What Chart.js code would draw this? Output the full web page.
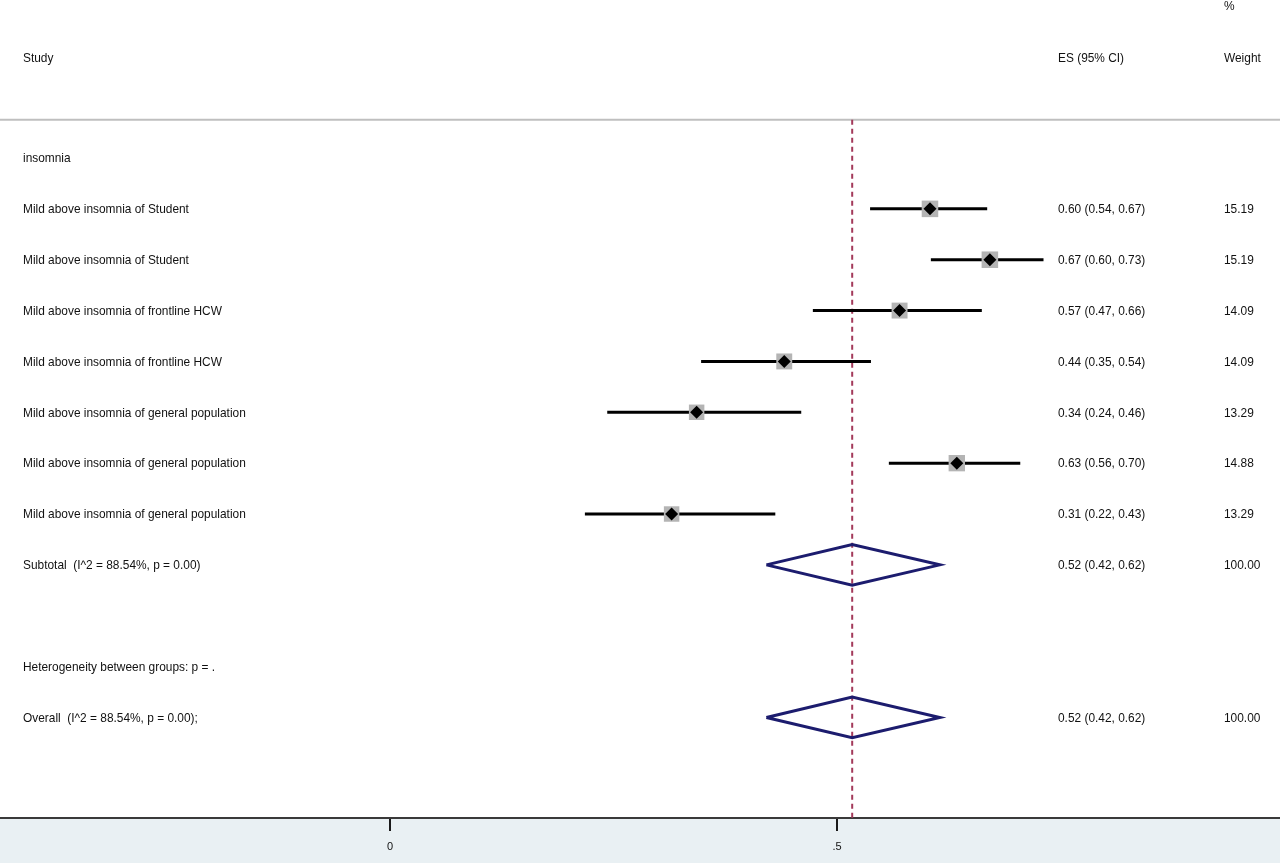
<!DOCTYPE html>
<html>
<head>
<meta charset="utf-8">
<script src="https://cdn.jsdelivr.net/npm/chart.js@4/dist/chart.umd.min.js"></script>
<style>
  html, body { margin: 0; padding: 0; background: #ffffff; }
  #wrap { width: 1280px; height: 865px; position: relative; }
</style>
</head>
<body>
<div id="wrap"><canvas id="c"></canvas></div>
<script>
// ---- data ----
const headerStudy = "Study";
const headerES = "ES (95% CI)";
const headerWeightTop = "%";
const headerWeight = "Weight";
const groupLabel = "insomnia";
const studyLabels = [
  "Mild above insomnia of Student",
  "Mild above insomnia of Student",
  "Mild above insomnia of frontline HCW",
  "Mild above insomnia of frontline HCW",
  "Mild above insomnia of general population",
  "Mild above insomnia of general population",
  "Mild above insomnia of general population"
];
const studyES = [0.604, 0.671, 0.570, 0.441, 0.343, 0.634, 0.315];
const studyLo = [0.537, 0.605, 0.473, 0.348, 0.243, 0.558, 0.218];
const studyHi = [0.668, 0.731, 0.662, 0.538, 0.460, 0.705, 0.431];
const studyESText = [
  "0.60 (0.54, 0.67)", "0.67 (0.60, 0.73)", "0.57 (0.47, 0.66)", "0.44 (0.35, 0.54)",
  "0.34 (0.24, 0.46)", "0.63 (0.56, 0.70)", "0.31 (0.22, 0.43)"
];
const studyWeights = [15.19, 15.19, 14.09, 14.09, 13.29, 14.88, 13.29];
const studyWeightText = ["15.19", "15.19", "14.09", "14.09", "13.29", "14.88", "13.29"];
const pooledLabels = ["Subtotal  (I^2 = 88.54%, p = 0.00)", "Overall  (I^2 = 88.54%, p = 0.00);"];
const pooledES = [0.517, 0.517];
const pooledLo = [0.421, 0.421];
const pooledHi = [0.615, 0.615];
const pooledESText = ["0.52 (0.42, 0.62)", "0.52 (0.42, 0.62)"];
const pooledWeightText = ["100.00", "100.00"];
const heterogeneityLabel = "Heterogeneity between groups: p = .";
const xTicks = [0, 0.5];
const xTickLabels = ["0", ".5"];

// ---- layout (row positions) ----
const groupRow = 0;
const studyRows = studyLabels.map((_, i) => i + 1);
const subtotalRow = studyRows.length + 1;
const hetRow = subtotalRow + 2;
const overallRow = hetRow + 1;
const pooledRows = [subtotalRow, overallRow];
const headerRow = -1.98;
const headerTopRow = -3.0;
const sepRow = -0.75;
const Y_MIN = -3.1066, Y_MAX = 12.977;
const X_MIN = -0.43624, X_MAX = 0.99553;
const DIAMOND_HALF = 0.4;

const FONT = '11.9px "Liberation Sans", Arial, sans-serif';
const TXT = '#111111';
const COL_STUDY = 23, COL_ES = 1058, COL_W = 1224;
const TEXT_DY = 1;

// ---- datasets ----
const datasets = [];
// reference dashed line
datasets.push({
  type: 'line', label: 'ref',
  data: [{x: pooledES[1], y: sepRow}, {x: pooledES[1], y: Y_MAX}],
  borderColor: '#a3395a', borderWidth: 2, borderDash: [5, 4],
  pointRadius: 0, showLine: true, order: 20
});
// CI lines
studyES.forEach((v, i) => {
  datasets.push({
    type: 'line', label: 'ci' + i,
    data: [{x: studyLo[i], y: studyRows[i]}, {x: studyHi[i], y: studyRows[i]}],
    borderColor: '#000000', borderWidth: 3, pointRadius: 0, showLine: true, order: 10
  });
});
// weight squares
datasets.push({
  type: 'scatter', label: 'weights',
  data: studyES.map((v, i) => ({x: v, y: studyRows[i]})),
  pointStyle: 'rect',
  pointRadius: ctx => 3.0 * Math.sqrt(studyWeights[ctx.dataIndex] || 0),
  backgroundColor: '#b4b4b4', borderWidth: 0, order: 8
});
// point estimates
datasets.push({
  type: 'scatter', label: 'es',
  data: studyES.map((v, i) => ({x: v, y: studyRows[i]})),
  pointStyle: 'rectRot', pointRadius: 6.5,
  backgroundColor: '#000000', borderWidth: 0, order: 1
});
// pooled diamonds
pooledES.forEach((v, i) => {
  const r = pooledRows[i];
  datasets.push({
    type: 'line', label: 'pooled' + i,
    data: [
      {x: pooledLo[i], y: r}, {x: v, y: r - DIAMOND_HALF},
      {x: pooledHi[i], y: r}, {x: v, y: r + DIAMOND_HALF},
      {x: pooledLo[i], y: r}
    ],
    borderColor: '#1c1c6e', borderWidth: 3, pointRadius: 0, showLine: true,
    tension: 0, fill: false, order: 2, borderJoinStyle: 'miter'
  });
});

// ---- plugins ----
const bandPlugin = {
  id: 'band',
  beforeDraw(chart) {
    const {ctx, chartArea, width, height} = chart;
    ctx.save();
    ctx.fillStyle = '#ffffff';
    ctx.fillRect(0, 0, width, height);
    ctx.fillStyle = '#e9f0f3';
    ctx.fillRect(0, chartArea.bottom, width, height - chartArea.bottom - 2);
    // header separator line
    const y = chart.scales.y.getPixelForValue(sepRow);
    ctx.strokeStyle = '#bfbfbf';
    ctx.lineWidth = 2;
    ctx.beginPath();
    ctx.moveTo(0, y); ctx.lineTo(width, y);
    ctx.stroke();
    ctx.restore();
  }
};

const textPlugin = {
  id: 'texts',
  afterDraw(chart) {
    const {ctx} = chart;
    const ys = chart.scales.y;
    ctx.save();
    ctx.font = FONT;
    ctx.fillStyle = TXT;
    ctx.textBaseline = 'middle';
    ctx.textAlign = 'left';
    const put = (t, x, row) => ctx.fillText(t, x, ys.getPixelForValue(row) + TEXT_DY);
    put(headerWeightTop, COL_W, headerTopRow);
    put(headerStudy, COL_STUDY, headerRow);
    put(headerES, COL_ES, headerRow);
    put(headerWeight, COL_W, headerRow);
    put(groupLabel, COL_STUDY, groupRow);
    studyLabels.forEach((t, i) => {
      put(t, COL_STUDY, studyRows[i]);
      put(studyESText[i], COL_ES, studyRows[i]);
      put(studyWeightText[i], COL_W, studyRows[i]);
    });
    pooledLabels.forEach((t, i) => {
      put(t, COL_STUDY, pooledRows[i]);
      put(pooledESText[i], COL_ES, pooledRows[i]);
      put(pooledWeightText[i], COL_W, pooledRows[i]);
    });
    put(heterogeneityLabel, COL_STUDY, hetRow);
    ctx.restore();
  }
};

new Chart(document.getElementById('c'), {
  type: 'scatter',
  data: { datasets },
  options: {
    responsive: true,
    maintainAspectRatio: false,
    animation: false,
    events: [],
    layout: { padding: 0, autoPadding: false },
    plugins: { legend: { display: false }, tooltip: { enabled: false } },
    scales: {
      x: {
        type: 'linear', min: X_MIN, max: X_MAX, position: 'bottom',
        afterBuildTicks: s => { s.ticks = xTicks.map(v => ({value: v})); },
        afterFit: s => { s.height = 47; },
        grid: { drawOnChartArea: false, drawTicks: true, tickLength: 13, color: '#1a1a1a', lineWidth: 2 },
        border: { display: true, color: '#3a3a3a', width: 2 },
        ticks: {
          padding: 9, color: '#111111', maxRotation: 0, autoSkip: false,
          font: { family: '"Liberation Sans", Arial, sans-serif', size: 11 },
          callback: (v) => { const k = xTicks.indexOf(v); return k >= 0 ? xTickLabels[k] : ''; }
        }
      },
      y: {
        type: 'linear', min: Y_MIN, max: Y_MAX, reverse: true, display: false
      }
    }
  },
  plugins: [bandPlugin, textPlugin]
});
</script>
</body>
</html>
